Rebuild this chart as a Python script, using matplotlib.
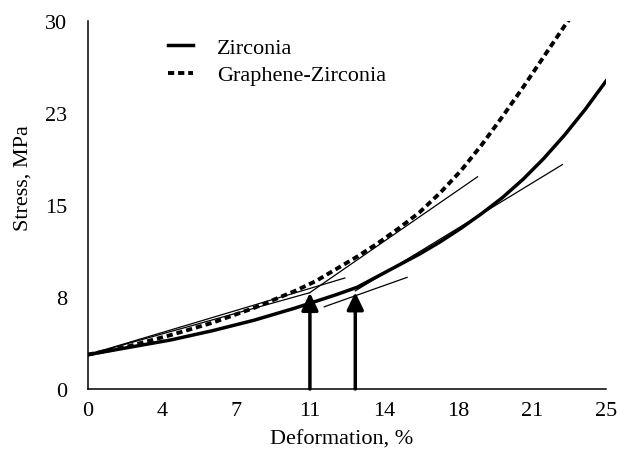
import numpy as np
import matplotlib.pyplot as plt

plt.rcParams['font.family'] = ['Liberation Serif', 'DejaVu Serif']

# curves
zr_x = [0, 2, 4, 6, 8, 10, 11, 12, 13, 14, 15, 16, 17, 18, 19, 20, 21, 22, 23, 24, 25]
zr_y = [2.8, 3.4, 4.0, 4.75, 5.6, 6.6, 7.15, 7.7, 8.3, 9.2, 10.1, 11.0, 12.0, 13.1, 14.3, 15.6, 17.1, 18.8, 20.7, 22.8, 25.1]

gz_x = [0, 2, 4, 6, 8, 10, 11, 12, 13, 14, 15, 16, 17, 18, 19, 20, 21, 22, 23, 23.3]
gz_y = [2.8, 3.5, 4.4, 5.4, 6.6, 8.0, 8.8, 9.8, 10.8, 11.9, 13.1, 14.4, 16.0, 17.8, 19.9, 22.2, 24.6, 27.1, 29.6, 30.3]

# thin construction lines (x pairs, y pairs)
tan_x = [[0, 12.4], [0, 10.7], [10.7, 18.8], [11.4, 15.4], [12.9, 22.9]]
tan_y = [[2.8, 9.05], [2.8, 7.85], [7.85, 17.3], [6.7, 9.1], [8.0, 18.3]]

# arrows marking the transition points
arrow_x = [10.71, 12.9]
arrow_y = [7.85, 7.9]

xticks = [i * 25 / 7 for i in range(8)]
xlabels = ['0', '4', '7', '11', '14', '18', '21', '25']
yticks = [0, 7.5, 15, 22.5, 30]
ylabels = ['0', '8', '15', '23', '30']

fig = plt.figure(figsize=(6.17, 4.56), dpi=100)
ax = fig.add_axes([88 / 617, 66 / 456, 518 / 617, 368 / 456])

for xs, ys in zip(tan_x, tan_y):
    ax.plot(xs, ys, color='black', lw=0.9)

ax.plot(zr_x, zr_y, color='black', lw=2.5, label='Zirconia')
ax.plot(gz_x, gz_y, color='black', lw=2.8, dashes=(1.6, 1.0), label='Graphene-Zirconia')

for xa, ya in zip(arrow_x, arrow_y):
    ax.annotate('', xy=(xa, ya), xytext=(xa, 0),
                arrowprops=dict(arrowstyle='-|>,head_length=1.05,head_width=0.5',
                                color='black', lw=2.5, shrinkA=0, shrinkB=0))

ax.set_xlim(0, 25)
ax.set_ylim(0, 30)
ax.set_xticks(xticks)
ax.set_xticklabels(xlabels)
ax.set_yticks(yticks)
ax.set_yticklabels(ylabels)
ax.tick_params(axis='x', length=0, pad=9, labelsize=16)
ax.tick_params(axis='y', length=0, pad=15, labelsize=16)

for s in ['top', 'right']:
    ax.spines[s].set_visible(False)
for s in ['left', 'bottom']:
    ax.spines[s].set_linewidth(1.1)

ax.set_xlabel('Deformation, %', fontsize=16)
ax.set_ylabel('Stress, MPa', fontsize=16)
ax.xaxis.set_label_coords(0.49, -0.11)
ax.yaxis.set_label_coords(-0.108, 0.575)

ax.legend(loc='upper left', bbox_to_anchor=(0.155, 0.955), frameon=False,
          fontsize=16, handlelength=1.1, handletextpad=1.1,
          labelspacing=0.3, borderpad=0, borderaxespad=0)

fig.savefig('out.png', dpi=100)
